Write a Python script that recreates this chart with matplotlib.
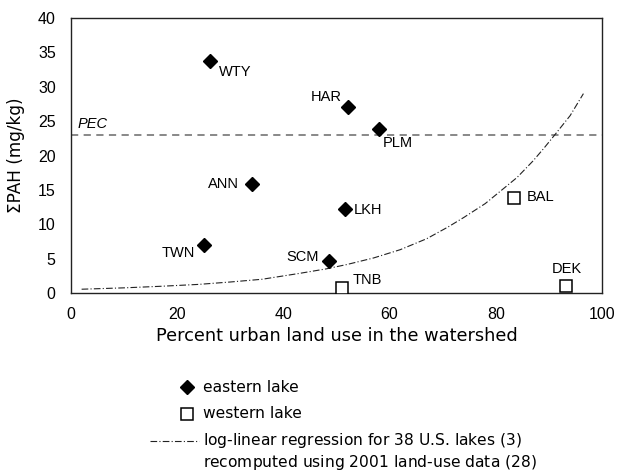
import matplotlib
matplotlib.use("Agg")
import matplotlib.pyplot as plt
from matplotlib.lines import Line2D

# eastern lakes (filled diamonds)
east_names = ["WTY", "HAR", "PLM", "ANN", "LKH", "TWN", "SCM"]
east_urban = [26.2, 52.1, 58.0, 34.1, 51.6, 25.1, 48.5]
east_pah = [33.8, 27.1, 23.9, 15.9, 12.2, 7.0, 4.6]

# western lakes (open squares)
west_names = ["TNB", "BAL", "DEK"]
west_urban = [51.0, 83.4, 93.3]
west_pah = [0.8, 13.8, 1.0]

# log-linear regression curve
reg_urban = [2, 10, 17, 24, 30, 36, 43, 48, 52, 57, 62, 67, 71, 74, 78, 81, 84, 87, 89, 91, 94, 96.5]
reg_pah = [0.55, 0.75, 0.98, 1.25, 1.6, 2.0, 2.85, 3.5, 4.15, 5.1, 6.3, 7.9, 9.6, 11.0, 13.0,
           14.9, 16.8, 19.2, 21.0, 22.9, 25.8, 29.0]

pec = 23

# label offsets in pixels, (dx, dy, ha)
east_off = {"WTY": (9, -11, "left"), "HAR": (-6, 10, "right"), "PLM": (4, -14, "left"),
            "ANN": (-13, 0, "right"), "LKH": (9, -1, "left"), "TWN": (-9, -8, "right"),
            "SCM": (-10, 4, "right")}
west_off = {"TNB": (11, 7, "left"), "BAL": (13, 1, "left"), "DEK": (0, 17, "center")}

W, H = 620, 472
fig = plt.figure(figsize=(6.2, 4.72), dpi=100)
ax = fig.add_axes([71 / W, 1 - 293 / H, (602 - 71) / W, (293 - 18) / H])

ax.axhline(pec, color="#7f7f7f", lw=1.3, ls=(0, (4, 3)), zorder=1)
ax.text(1.3, pec + 0.5, "PEC", fontsize=10.5, style="italic", family="Liberation Sans",
        va="bottom", ha="left")

ax.plot(reg_urban, reg_pah, color="#222222", lw=0.8, ls=(0, (6, 2, 1, 2)), zorder=2)

ax.plot(east_urban, east_pah, ls="none", marker="D", ms=7.5, color="black", zorder=3)
ax.plot(west_urban, west_pah, ls="none", marker="s", ms=8, mfc="white", mec="black",
        mew=1.1, zorder=3)

for n, x, y in zip(east_names, east_urban, east_pah):
    dx, dy, ha = east_off[n]
    ax.annotate(n, (x, y), xytext=(dx, dy), textcoords="offset pixels", ha=ha, va="center",
                fontsize=10.5, family="Liberation Sans")
for n, x, y in zip(west_names, west_urban, west_pah):
    dx, dy, ha = west_off[n]
    ax.annotate(n, (x, y), xytext=(dx, dy), textcoords="offset pixels", ha=ha, va="center",
                fontsize=10.5, family="Liberation Sans")

ax.set_xlim(0, 100)
ax.set_ylim(0, 40)
ax.set_xticks(range(0, 101, 20))
ax.set_yticks(range(0, 41, 5))
ax.tick_params(length=0, labelsize=11.5)
ax.tick_params(axis="x", pad=10)
ax.tick_params(axis="y", pad=11)
for t in ax.get_xticklabels() + ax.get_yticklabels():
    t.set_family("Liberation Sans")
for s in ax.spines.values():
    s.set_linewidth(1.0)
    s.set_color("#222222")

ax.set_xlabel("Percent urban land use in the watershed", fontsize=12.8, family="DejaVu Sans",
              labelpad=4)
ax.set_ylabel("\u03a3PAH (mg/kg)", fontsize=12.2, family="DejaVu Sans", labelpad=9)

# legend drawn by hand below the axes, in pixel coordinates
lax = fig.add_axes([0, 0, 1, 1], zorder=-1)
lax.set_xlim(0, W)
lax.set_ylim(H, 0)
lax.axis("off")
lax.plot([187], [387], marker="D", ms=7, color="black", ls="none")
lax.plot([187], [414], marker="s", ms=8, mfc="white", mec="black", mew=1.1, ls="none")
lax.add_line(Line2D([150, 199], [441, 441], color="#222222", lw=0.8, ls=(0, (6, 2, 1, 2))))
lkw = dict(fontsize=11.2, family="DejaVu Sans", va="center", ha="left")
lax.text(203, 387, "eastern lake", **lkw)
lax.text(203, 414, "western lake", **lkw)
lax.text(203, 441, "log-linear regression for 38 U.S. lakes ($\\mathit{3}$)", **lkw)
lax.text(203, 462, "recomputed using 2001 land-use data ($\\mathit{28}$)", **lkw)

fig.savefig("out.png", dpi=100)
